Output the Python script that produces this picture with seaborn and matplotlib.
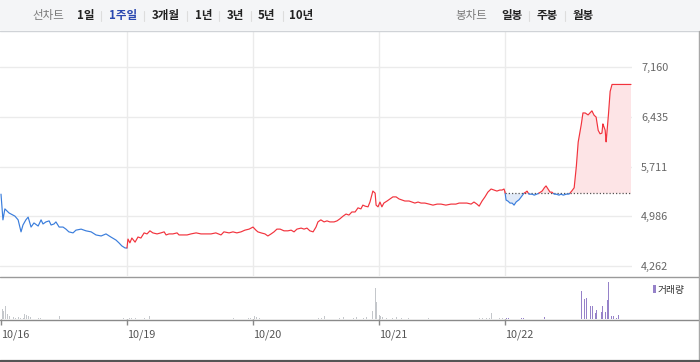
import numpy as np
import pandas as pd
import matplotlib
matplotlib.use("Agg")
import matplotlib.pyplot as plt
from matplotlib.lines import Line2D
from matplotlib.patches import Rectangle
import seaborn as sns

sns.set_theme(style="white")
plt.rcParams["font.family"] = ["Noto Sans CJK KR", "DejaVu Sans"]

# ---------------- data ----------------
dates = ["10/16", "10/19", "10/20", "10/21", "10/22"]
period_tabs = ["1일", "1주일", "3개월", "1년", "3년", "5년", "10년"]
candle_tabs = ["일봉", "주봉", "월봉"]
y_ticks = [4262, 4986, 5711, 6435, 7160]
prev_close = 5320  # reference price of the last day (dotted line)

# minutes after the open (trading day = 390 min) and prices, per day
d0_min = [0, 6, 12, 25, 37, 43, 53, 62, 68, 77, 84, 93, 102, 115, 124, 130, 139, 149, 155, 164,
          170, 180, 192, 201, 210, 223, 232, 248, 263, 279, 294, 310, 325, 340, 356, 365, 374, 384, 390]
d0_px = [5310, 4935, 5095, 5035, 5005, 4990, 4935, 4760, 4860, 4935, 4975, 4830, 4890, 4845, 4935,
         4875, 4905, 4920, 4860, 4875, 4905, 4830, 4830, 4800, 4760, 4745, 4785, 4800, 4775, 4760,
         4715, 4700, 4730, 4685, 4640, 4600, 4555, 4525, 4525]
d1_min = [3, 9, 15, 25, 34, 43, 53, 62, 71, 80, 93, 105, 115, 121, 130, 142, 155, 161, 173, 186,
          198, 214, 229, 245, 260, 275, 291, 300, 316, 328, 340, 353, 365, 378, 390]
d1_px = [4655, 4600, 4670, 4610, 4685, 4670, 4745, 4730, 4775, 4745, 4730, 4745, 4760, 4715, 4730,
         4730, 4745, 4715, 4715, 4715, 4730, 4745, 4730, 4730, 4730, 4745, 4715, 4760, 4745, 4760,
         4745, 4760, 4785, 4800, 4830]
d2_min = [9, 15, 25, 37, 46, 56, 65, 74, 84, 96, 108, 118, 127, 136, 149, 158, 167, 176, 186, 195,
          201, 210, 220, 229, 238, 251, 260, 269, 279, 288, 297, 306, 316, 325, 334, 340, 347, 356,
          362, 371, 378, 381, 387]
d2_px = [4785, 4760, 4745, 4730, 4700, 4730, 4760, 4800, 4800, 4775, 4775, 4785, 4760, 4800, 4815,
         4800, 4815, 4775, 4760, 4830, 4905, 4935, 4905, 4920, 4905, 4905, 4920, 4950, 4990, 5020,
         5005, 5050, 5050, 5110, 5095, 5150, 5135, 5125, 5195, 5355, 5325, 5150, 5125]
d3_min = [3, 9, 15, 25, 34, 43, 53, 62, 71, 80, 93, 102, 111, 121, 130, 142, 155, 167, 180, 192,
          207, 223, 238, 248, 260, 272, 285, 294, 303, 310, 319, 328, 337, 347, 356, 365, 374, 381,
          387, 390]
d3_px = [5195, 5125, 5180, 5210, 5240, 5270, 5270, 5240, 5225, 5210, 5210, 5195, 5180, 5195, 5180,
         5180, 5165, 5150, 5165, 5165, 5150, 5165, 5165, 5180, 5180, 5180, 5165, 5195, 5165, 5135,
         5210, 5270, 5340, 5385, 5370, 5355, 5370, 5370, 5385, 5340]
d4_min = [3, 9, 15, 22, 28, 34, 43, 50, 59, 65, 68, 74, 84, 90, 99, 105, 115, 121, 127, 133, 139,
          145, 152, 158, 167, 173, 180, 189, 198, 204, 214, 220, 226, 235, 241, 248, 257, 263, 269,
          275, 282, 288, 294, 300, 303, 310, 313, 319, 325, 331, 390]
d4_px = [5225, 5210, 5180, 5180, 5150, 5195, 5225, 5270, 5325, 5340, 5355, 5310, 5310, 5295, 5310,
         5325, 5355, 5400, 5430, 5385, 5340, 5340, 5310, 5310, 5295, 5310, 5295, 5310, 5310, 5340,
         5400, 5665, 6055, 6290, 6495, 6495, 6465, 6495, 6525, 6465, 6435, 6245, 6190, 6200, 6335,
         6245, 6070, 6390, 6800, 6910, 6910]

# volume (relative units), gray for earlier days, purple for the last day
vol_gray_day = [0] * 23 + [1] * 11 + [2] * 20 + [3] * 23
vol_gray_min = [6, 9, 15, 19, 25, 31, 40, 46, 53, 59, 65, 71, 74, 80, 84, 90, 96, 115, 121, 180, 297, 362, 378,
                3, 9, 15, 25, 34, 53, 71, 331, 375, 381, 387,
                6, 12, 19, 195, 204, 211, 220, 269, 279, 288, 297, 310, 319, 328, 341, 350, 362, 371, 378, 381,
                2, 6, 12, 22, 31, 43, 53, 62, 71, 90, 130, 152, 192, 310, 319, 328, 334, 341, 347, 353, 362, 372, 381]
vol_gray_val = [10, 8, 13, 5, 3, 1, 2, 1, 2, 1, 2, 1, 5, 4, 3, 2, 1, 1, 1, 3, 1, 1, 1,
                1, 1, 1, 1, 1, 1, 3, 1, 1, 1, 1,
                3, 2, 1, 1, 1, 1, 3, 1, 2, 1, 3, 1, 2, 1, 1, 2, 1, 8, 31, 17,
                4, 3, 2, 1, 2, 1, 2, 1, 1, 1, 1, 1, 1, 1, 1, 2, 1, 1, 6, 5, 1, 1, 1]
vol_last_min = [6, 12, 50, 56, 62, 121, 127, 223, 229, 232, 238, 245, 251, 257, 263, 266, 272, 279,
                282, 288, 294, 300, 303, 310, 316, 319, 325, 331, 337, 344, 350, 353]
vol_last_val = [1, 1, 1, 1, 1, 2, 2, 5, 23, 31, 28, 20, 21, 15, 10, 13, 13, 6, 9, 9, 6, 7, 13, 7,
                19, 37, 19, 3, 3, 1, 4, 1]

DAY_MIN = 390.0


def to_t(day, mins):
    return [day + m / DAY_MIN for m in mins]


# ---------------- styling ----------------
RED = "#f2333d"
BLUE = "#3a7ddc"
RED_FILL = "#fde4e6"
BLUE_FILL = "#e1eaf8"
GRID = "#ebebeb"
LW = 0.85
W, H = 700, 362


def fx(x):
    return x / W


def fy(y):
    return 1 - y / H


fig = plt.figure(figsize=(7.0, 3.62), dpi=100)
fig.patch.set_facecolor("white")

# header band
fig.patches.append(Rectangle((0, fy(30)), 1, 30 / H, transform=fig.transFigure,
                             facecolor="#f4f5f7", edgecolor="none", zorder=0))
fig.lines.append(Line2D([0, 1], [fy(30.5), fy(30.5)], transform=fig.transFigure,
                        color="#d0d3d7", lw=1))

hdr_font = 8.3
fig.text(fx(48), fy(15.5), "선차트", ha="center", va="center", fontsize=hdr_font, color="#7a7a7a")
tab_x = [85.5, 123.5, 166, 203.5, 235, 266.5, 301.5]
for i, (lab, x) in enumerate(zip(period_tabs, tab_x)):
    fig.text(fx(x), fy(15.5), lab, ha="center", va="center", fontsize=hdr_font,
             fontweight="bold", color="#2a48b0" if lab == "1주일" else "#222222")
for sx in [101, 144, 187, 219, 251, 283]:
    fig.lines.append(Line2D([fx(sx), fx(sx)], [fy(10.5), fy(20.5)], transform=fig.transFigure,
                            color="#dddddd", lw=0.8))
fig.text(fx(471.5), fy(15.5), "봉차트", ha="center", va="center", fontsize=hdr_font, color="#7a7a7a")
for lab, x in zip(candle_tabs, [511.5, 547, 583]):
    fig.text(fx(x), fy(15.5), lab, ha="center", va="center", fontsize=hdr_font,
             fontweight="bold", color="#222222")
for sx in [529, 565]:
    fig.lines.append(Line2D([fx(sx), fx(sx)], [fy(10.5), fy(20.5)], transform=fig.transFigure,
                            color="#dddddd", lw=0.8))

# ---------------- price axes ----------------
x_lo, x_hi = -1 / 126, 5 + 1 / 126
ax = fig.add_axes([0, fy(276), fx(632), (276 - 31) / H])
ax.set_facecolor("none")
y_lo = 4262 - 10 * 724.5 / 49.67
y_hi = 4262 + 235 * 724.5 / 49.67
ax.set_xlim(x_lo, x_hi)
ax.set_ylim(y_lo, y_hi)
for s in ax.spines.values():
    s.set_visible(False)
ax.set_yticks(y_ticks)
ax.yaxis.tick_right()
ax.set_yticklabels([f"{v:,}" for v in y_ticks])
ax.tick_params(axis="y", length=0, pad=6.5, labelsize=7.8, labelcolor="#666666")
ax.set_xticks([])
ax.grid(False)
for v in y_ticks:
    ax.axhline(v, color=GRID, lw=1, zorder=0)
for d in range(1, 5):
    ax.axvline(d, color=GRID, lw=1, zorder=0)

# day 0 (blue)
df0 = pd.DataFrame({"t": to_t(0, d0_min), "price": d0_px})
sns.lineplot(data=df0, x="t", y="price", ax=ax, color=BLUE, lw=LW, estimator=None, sort=False)

# days 1-3 (red), connected from the last point of day 0
t_red = [df0["t"].iloc[-1]] + to_t(1, d1_min) + to_t(2, d2_min) + to_t(3, d3_min)
p_red = [d0_px[-1]] + d1_px + d2_px + d3_px
df_red = pd.DataFrame({"t": t_red, "price": p_red})
sns.lineplot(data=df_red, x="t", y="price", ax=ax, color=RED, lw=LW, estimator=None, sort=False)

# last day: coloured relative to previous close
t4 = np.array([t_red[-1]] + to_t(4, d4_min))
p4 = np.array([p_red[-1]] + d4_px, dtype=float)
tf = np.linspace(t4[0], t4[-1], 4000)
pf = np.interp(tf, t4, p4)
ax.fill_between(tf, pf, prev_close, where=pf >= prev_close, interpolate=True,
                color=RED_FILL, lw=0, zorder=1)
ax.fill_between(tf, pf, prev_close, where=pf <= prev_close, interpolate=True,
                color=BLUE_FILL, lw=0, zorder=1)
ax.plot(tf, np.where(pf >= prev_close, pf, np.nan), color=RED, lw=LW, zorder=3)
ax.plot(tf, np.where(pf <= prev_close, pf, np.nan), color=BLUE, lw=LW, zorder=3)
ax.hlines(prev_close, 4, x_hi, colors="#555555", linestyles=(0, (1, 1.6)), lw=0.9, zorder=2)
ax.set_xlabel("")
ax.set_ylabel("")

# ---------------- volume axes ----------------
axv = fig.add_axes([0, fy(319), fx(632), (319 - 277) / H])
axv.set_facecolor("none")
axv.set_xlim(x_lo, x_hi)
axv.set_ylim(0, 42)
for s in axv.spines.values():
    s.set_visible(False)
tg = [d + m / DAY_MIN for d, m in zip(vol_gray_day, vol_gray_min)]
tl = to_t(4, vol_last_min)
bw = 0.9 / 126
axv.bar(tg, vol_gray_val, width=bw, color="#c4c7cb", lw=0, align="center")
axv.bar(tl, vol_last_val, width=bw, color="#9682c9", lw=0, align="center")
axv.set_yticks([])
axv.set_xticks(range(5))
axv.set_xticklabels(dates, ha="left")
axv.tick_params(axis="x", length=4, width=1, color="#888888", pad=3.5, labelsize=7.8,
                labelcolor="#555555", direction="out", bottom=True)

# legend
fig.patches.append(Rectangle((fx(652.5), fy(293)), 3.5 / W, 8 / H, transform=fig.transFigure,
                             facecolor="#9682c9", edgecolor="none"))
fig.text(fx(658), fy(289.5), "거래량", ha="left", va="center", fontsize=7, color="#333333")

# frame lines
fig.lines.append(Line2D([0, 1], [fy(276.5), fy(276.5)], transform=fig.transFigure, color="#9a9a9a", lw=1))
fig.lines.append(Line2D([0, 1], [fy(319.5), fy(319.5)], transform=fig.transFigure, color="#8a8a8a", lw=1))
fig.lines.append(Line2D([fx(698.5), fx(698.5)], [fy(31), fy(359)], transform=fig.transFigure,
                        color="#a8a8a8", lw=1))
fig.lines.append(Line2D([0, 1], [fy(360.5), fy(360.5)], transform=fig.transFigure, color="#555555", lw=2.3))

fig.savefig("out.png", dpi=100)
